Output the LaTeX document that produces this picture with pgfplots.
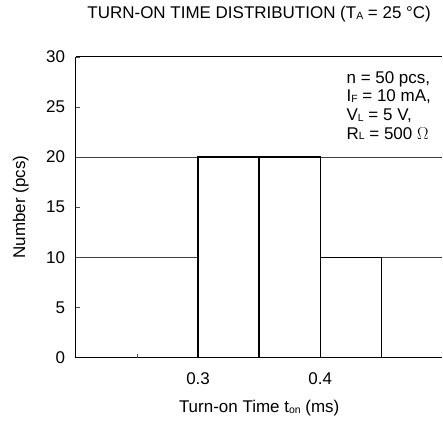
\documentclass[border=0pt]{standalone}
\usepackage{pgfplots}
\pgfplotsset{compat=1.18}
\usepackage{fontspec}
\setmainfont{Liberation Sans}
\newcommand{\sub}[1]{\raisebox{-0.6bp}{\fontsize{10.5}{11}\selectfont #1}}
\begin{document}
\fontsize{17bp}{20bp}\selectfont
\begin{tikzpicture}
\begin{axis}[
  scale only axis,
  width=367bp, height=301bp,
  xmin=0.2, xmax=0.5, ymin=0, ymax=30,
  clip=false,
  separate axis lines,
  axis x line=box, axis y line=left,
  axis line style={line width=1.1bp, -},
  xtick={0.3,0.4}, xticklabels={0.3,0.4},
  extra x ticks={0.25}, extra x tick labels={},
  ytick={0,5,15,25,30},
  extra y ticks={10,20}, extra y tick labels={10,20},
  extra y tick style={grid=major, major grid style={line width=0.8bp, black!75}},
  xtick pos=bottom, ytick pos=left, tick align=inside,
  major tick length=4bp,
  tick style={line width=0.8bp, black!70},
  /pgf/number format/assume math mode=true,
  ticklabel style={font=\fontsize{17bp}{20bp}\selectfont},
  xticklabel style={yshift=-9bp},
  yticklabel style={xshift=-5bp},
]
\addplot[ybar interval, fill=white, draw=black, line width=1.4bp] coordinates {(0.3,20) (0.35,20) (0.4,10) (0.45,10)};
\node[anchor=north west, inner sep=0pt, align=left, font=\fontsize{17bp}{18.7bp}\selectfont]
  at (rel axis cs:0.738,0.953) {n = 50 pcs,\\ I\sub{F} = 10 mA,\\ V\sub{L} = 5 V,\\ R\sub{L} = 500 $\Omega$};
\node[anchor=base, inner sep=0pt] at ([yshift=38bp]rel axis cs:0.5,1) {TURN-ON TIME DISTRIBUTION (T\sub{A} = 25 \textdegree C)};
\node[anchor=base, inner sep=0pt] at ([yshift=-55bp]rel axis cs:0.5,0) {Turn-on Time t\sub{on} (ms)};
\node[anchor=east, inner sep=0pt] at ([xshift=-47bp]rel axis cs:0,0.5) {\rotatebox{90}{Number (pcs)}};
\path ([xshift=-76bp,yshift=-68bp]rel axis cs:0,0) rectangle ([yshift=57bp]rel axis cs:1,1);
\end{axis}
\end{tikzpicture}
\end{document}
